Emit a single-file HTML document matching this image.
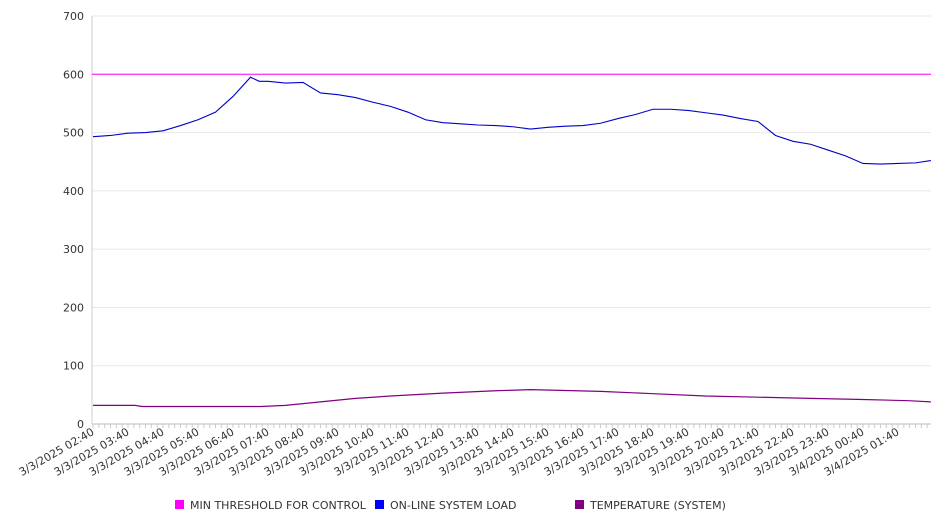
<!DOCTYPE html>
<html><head><meta charset="utf-8"><style>
body{margin:0;background:#fff;}
svg text{font-family:"DejaVu Sans","Liberation Sans",sans-serif;fill:#333;}
</style></head><body>
<svg id="chart" width="946" height="526" xmlns="http://www.w3.org/2000/svg">
<g id="grid"></g>
<g id="yaxis"></g>
<g id="xaxis"></g>
<g id="series"></g>
<g id="legend"></g>
</svg>
<script>
const xLabels=["3/3/2025 02:40","3/3/2025 03:40","3/3/2025 04:40","3/3/2025 05:40","3/3/2025 06:40","3/3/2025 07:40","3/3/2025 08:40","3/3/2025 09:40","3/3/2025 10:40","3/3/2025 11:40","3/3/2025 12:40","3/3/2025 13:40","3/3/2025 14:40","3/3/2025 15:40","3/3/2025 16:40","3/3/2025 17:40","3/3/2025 18:40","3/3/2025 19:40","3/3/2025 20:40","3/3/2025 21:40","3/3/2025 22:40","3/3/2025 23:40","3/4/2025 00:40","3/4/2025 01:40"];
const yTicks=[0,100,200,300,400,500,600,700];
const loadHours=[0,0.5,1,1.5,2,2.5,3,3.5,4,4.5,4.75,5,5.5,6,6.5,7,7.5,8,8.5,9,9.5,10,10.5,11,11.5,12,12.5,13,13.5,14,14.5,15,15.5,16,16.5,17,17.5,18,18.5,19,19.5,20,20.5,21,21.5,22,22.5,23,23.5,23.94];
const loadValues=[493,495,499,500,503,512,522,535,562,595,588,588,585,586,568,565,560,552,545,535,522,517,515,513,512,510,506,509,511,512,516,524,531,540,540,538,534,530,524,519,495,485,480,470,460,447,446,447,448,452];
const tempHours=[0,1.2,1.4,4.8,5.5,6.5,7.5,8.5,10,11.5,12.5,14.5,16,17.5,19,20.5,22,23.3,23.94];
const tempValues=[32,32,30,30,32,38,44,48,53,57,59,56,52,48,46,44,42,40,38];
const threshold=600;
const X0=93,HW=35,Y0=424,YTOP=16,YMAX=700,XEND=931;
const xs=h=>X0+h*HW, ys=v=>Y0-(v/YMAX)*(Y0-YTOP);
const NS="http://www.w3.org/2000/svg";
function mk(t,a,p){const e=document.createElementNS(NS,t);for(const k in a)e.setAttribute(k,a[k]);p.appendChild(e);return e;}
const grid=document.getElementById('grid'),ya=document.getElementById('yaxis'),xa=document.getElementById('xaxis'),se=document.getElementById('series'),lg=document.getElementById('legend');
yTicks.forEach(v=>{
 const l=mk('line',{x1:92,x2:XEND,y1:ys(v),y2:ys(v),stroke:v===0?'#bbb':'#e8e8e8','stroke-width':1},grid);
 
 
 const t=mk('text',{x:84,y:ys(v)+4,'text-anchor':'end','font-size':11},ya);t.textContent=v;
 
 
});
mk('line',{x1:92,x2:92,y1:16,y2:424,stroke:'#ccc'},ya);
for(let h=0;h<=23.94;h+=1/6){mk('line',{x1:xs(h),x2:xs(h),y1:424,y2:428,stroke:'#ccc'},xa);}
xLabels.forEach((s,i)=>{
 const t=mk('text',{x:0,y:0,'text-anchor':'end','font-size':11,transform:`translate(${xs(i)+2},${434}) rotate(-30)`},xa);t.textContent=s;
 
 
});
const th=mk('line',{x1:92,x2:XEND,y1:ys(threshold),y2:ys(threshold),stroke:'#ff00ff','stroke-width':1},se);


const lp=mk('polyline',{points:loadHours.map((h,i)=>xs(h)+','+ys(loadValues[i])).join(' '),fill:'none',stroke:'#0000cc','stroke-width':1.1},se);


const tp=mk('polyline',{points:tempHours.map((h,i)=>xs(h)+','+ys(tempValues[i])).join(' '),fill:'none',stroke:'#800080','stroke-width':1.2},se);


[["MIN THRESHOLD FOR CONTROL","#ff00ff",175],["ON-LINE SYSTEM LOAD","#0000ff",375],["TEMPERATURE (SYSTEM)","#800080",575]].forEach(([n,c,x])=>{
 const g=mk('g',{},lg);
 
 
 mk('rect',{x:x,y:500,width:9,height:9,fill:c},g);
 const t=mk('text',{x:x+15,y:509,'font-size':11},g);t.textContent=n;
});
</script>
</body></html>
